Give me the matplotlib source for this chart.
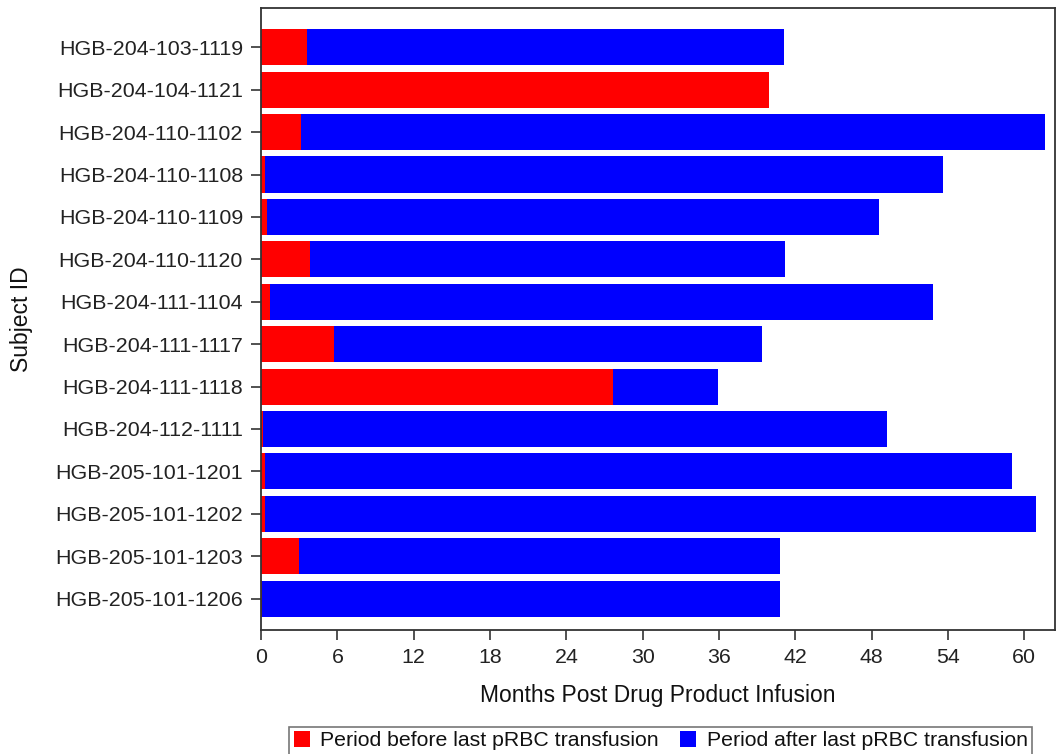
"""
Horizontal stacked bars: months before/after last pRBC transfusion per subject.
"""

import matplotlib.pyplot as plt
from matplotlib.patches import Patch

plt.rcParams["font.family"] = ["Liberation Sans", "DejaVu Sans"]

subjects = [
    "HGB-204-103-1119", "HGB-204-104-1121", "HGB-204-110-1102", "HGB-204-110-1108",
    "HGB-204-110-1109", "HGB-204-110-1120", "HGB-204-111-1104", "HGB-204-111-1117",
    "HGB-204-111-1118", "HGB-204-112-1111", "HGB-205-101-1201", "HGB-205-101-1202",
    "HGB-205-101-1203", "HGB-205-101-1206",
]
# months from infusion to last pRBC transfusion
before_months = [3.6, 39.9, 3.1, 0.3, 0.45, 3.85, 0.7, 5.75, 27.7, 0.15, 0.3, 0.3, 3.0, 0.1]
# total follow-up in months
total_months = [41.1, 39.9, 61.6, 53.6, 48.6, 41.2, 52.8, 39.4, 35.9, 49.2, 59.0, 60.9, 40.8, 40.8]
after_months = [t - b for t, b in zip(total_months, before_months)]

xticks = list(range(0, 61, 6))

RED = "#ff0000"
BLUE = "#0000ff"
TICK_FS = 15.4
LABEL_FS = 16.5
LEG_FS = 15.3

fig = plt.figure(figsize=(10.57, 7.54), dpi=100)
ax = fig.add_axes([0.247, 0.164, 0.751, 0.825])

ypos = list(range(len(subjects)))
ax.barh(ypos, before_months, height=0.85, color=RED, linewidth=0)
ax.barh(ypos, after_months, left=before_months, height=0.85, color=BLUE, linewidth=0)

ax.set_yticks(ypos)
ax.set_yticklabels(subjects, fontsize=TICK_FS, color="#222222")
ax.set_ylim(13.75, -0.92)
ax.set_xlim(0, 62.4)
ax.set_xticks(xticks)
ax.set_xticklabels([str(v) for v in xticks], fontsize=TICK_FS, color="#222222")
ax.tick_params(axis="both", direction="out", length=7, width=1.2, color="#333333", pad=6)

for side in ["left", "bottom", "top", "right"]:
    ax.spines[side].set_linewidth(1.3)
    ax.spines[side].set_color("#333333")

ax.set_xlabel("Months Post Drug Product Infusion", fontsize=LABEL_FS, color="#111111", labelpad=12)
ax.set_ylabel("Subject ID", fontsize=LABEL_FS, color="#111111", labelpad=16)

handles = [
    Patch(facecolor=RED, edgecolor="none", label="Period before last pRBC transfusion"),
    Patch(facecolor=BLUE, edgecolor="none", label="Period after last pRBC transfusion"),
]
leg = fig.legend(
    handles=handles, loc="upper center", bbox_to_anchor=(0.625, 1 - 727 / 754),
    ncol=2, fontsize=LEG_FS, frameon=True, fancybox=False, handlelength=0.75,
    handleheight=0.75, handletextpad=0.5, columnspacing=1.0, borderpad=0.2,
    borderaxespad=0,
)
leg.get_frame().set_edgecolor("#555555")
leg.get_frame().set_linewidth(1.2)
for txt in leg.get_texts():
    txt.set_color("#111111")

plt.savefig("out.png", dpi=100)
plt.close()
